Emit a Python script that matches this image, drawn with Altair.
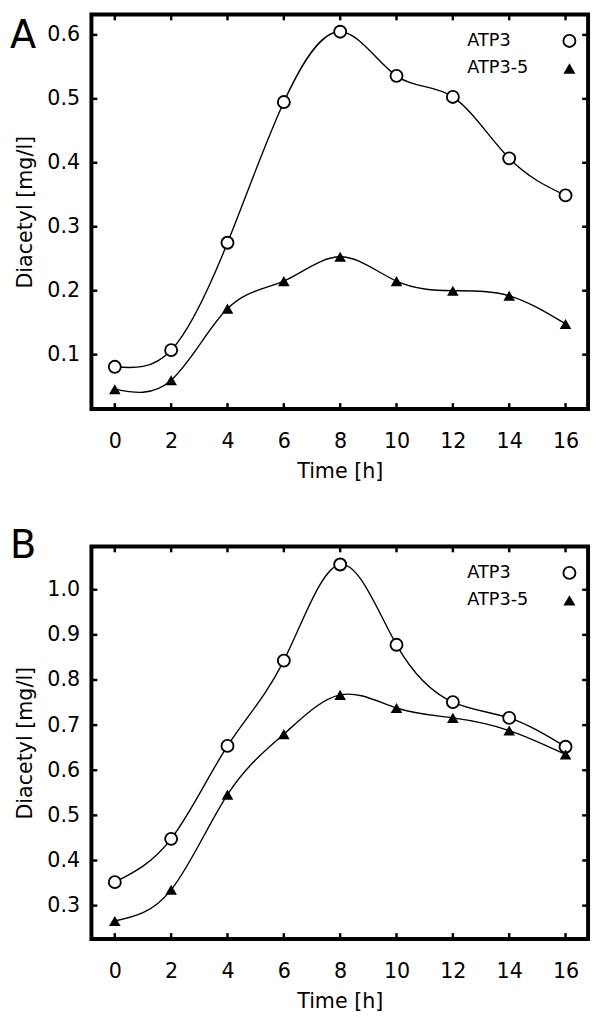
import altair as alt
import pandas as pd

FONT = "DejaVu Sans"

time = [0, 2, 4, 6, 8, 10, 12, 14, 16]
series = ["ATP3", "ATP3-5"]
a_atp3 = [0.081, 0.107, 0.275, 0.495, 0.605, 0.536, 0.503, 0.407, 0.349]
a_atp35 = [0.046, 0.060, 0.172, 0.215, 0.253, 0.215, 0.200, 0.192, 0.148]
b_atp3 = [0.352, 0.448, 0.654, 0.843, 1.056, 0.878, 0.751, 0.716, 0.652]
b_atp35 = [0.266, 0.335, 0.546, 0.680, 0.767, 0.738, 0.716, 0.688, 0.635]
x_ticks = [0, 2, 4, 6, 8, 10, 12, 14, 16]
a_y_ticks = [0.1, 0.2, 0.3, 0.4, 0.5, 0.6]
b_y_ticks = [0.3, 0.4, 0.5, 0.6, 0.7, 0.8, 0.9, 1.0]
x_domain = [-0.83, 16.8]
a_y_domain = [0.015, 0.632]
b_y_domain = [0.226, 1.096]

W = 506


def panel(v1, v2, ydom, yticks, letter, letter_y, H):
    df = pd.DataFrame({
        "t": time * 2,
        "v": v1 + v2,
        "s": [series[0]] * len(time) + [series[1]] * len(time),
    })
    xs = alt.Scale(domain=x_domain, nice=False, zero=False)
    ys = alt.Scale(domain=ydom, nice=False, zero=False)
    x = alt.X("t:Q", scale=xs,
              axis=alt.Axis(values=x_ticks, format="d", title="Time [h]"))
    y = alt.Y("v:Q", scale=ys,
              axis=alt.Axis(values=yticks, format=".1f", title="Diacetyl [mg/l]"))
    base = alt.Chart(df)
    line = base.mark_line(interpolate="natural", color="black",
                          strokeWidth=1.4, clip=True).encode(x=x, y=y, detail="s:N")
    circles = base.transform_filter(alt.datum.s == series[0]).mark_point(
        shape="circle", filled=True, fill="white", stroke="black",
        strokeWidth=1.9, size=150, opacity=1).encode(x=x, y=y)
    tris = base.transform_filter(alt.datum.s == series[1]).mark_point(
        shape="triangle-up", filled=True, color="black", size=140,
        opacity=1).encode(x=x, y=y)

    xt = alt.Chart(pd.DataFrame({"t": x_ticks}))
    yt = alt.Chart(pd.DataFrame({"v": yticks}))
    tick_style = dict(color="black", strokeWidth=2.5)
    t_bottom = xt.mark_rule(**tick_style).encode(
        x=x, y=alt.value(H), y2=alt.value(H - 6))
    t_top = xt.mark_rule(**tick_style).encode(
        x=x, y=alt.value(0), y2=alt.value(6))
    t_left = yt.mark_rule(**tick_style).encode(
        y=y, x=alt.value(0), x2=alt.value(6))
    t_right = yt.mark_rule(**tick_style).encode(
        y=y, x=alt.value(W), x2=alt.value(W - 6))

    leg = []
    for i, name in enumerate(series):
        ldf = alt.Chart(pd.DataFrame({"s": [name]}))
        leg.append(ldf.mark_text(align="left", baseline="middle", fontSize=18,
                                 font=FONT, color="black").encode(
            x=alt.value(383), y=alt.value(27 + 28 * i), text="s:N"))
    leg.append(alt.Chart(pd.DataFrame({"s": [series[0]]})).mark_point(
        shape="circle", filled=True, fill="white", stroke="black",
        strokeWidth=1.9, size=150, opacity=1).encode(
        x=alt.value(487), y=alt.value(27)))
    leg.append(alt.Chart(pd.DataFrame({"s": [series[1]]})).mark_point(
        shape="triangle-up", filled=True, color="black", size=150,
        opacity=1).encode(x=alt.value(487), y=alt.value(55)))

    lab = alt.Chart(pd.DataFrame({"l": [letter]})).mark_text(
        align="left", baseline="top", fontSize=39, font=FONT,
        color="black").encode(x=alt.value(-83), y=alt.value(letter_y), text="l:N")

    return alt.layer(line, circles, tris, t_bottom, t_top, t_left, t_right,
                     *leg, lab).properties(width=W, height=H)


pa = panel(a_atp3, a_atp35, a_y_domain, a_y_ticks, "A", 3, 402)
pb = panel(b_atp3, b_atp35, b_y_domain, b_y_ticks, "B", -19, 400)

chart = alt.vconcat(pa, pb, spacing=43).properties(
    padding={"left": 0, "top": -7, "right": 0, "bottom": 0}
).configure_view(
    stroke="black", strokeWidth=4
).configure_axis(
    grid=False, ticks=False, domain=False,
    labelFont=FONT, titleFont=FONT, labelFontSize=21, titleFontSize=21,
    titleFontWeight="normal", labelColor="black", titleColor="black",
).configure_axisX(
    labelPadding=22, titlePadding=10,
).configure_axisY(
    labelPadding=12, titlePadding=12,
)

chart.save("out.html", embed_options={"renderer": "svg", "actions": False})
